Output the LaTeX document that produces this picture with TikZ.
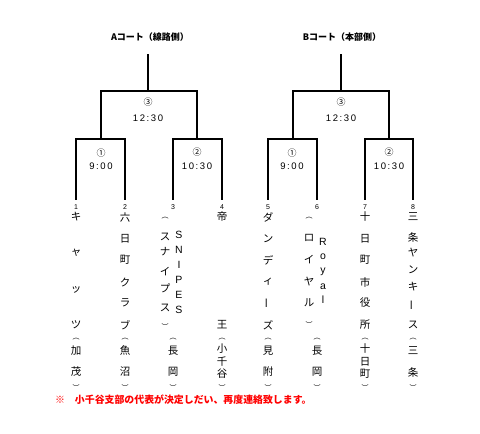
\documentclass[tikz,border=0pt]{standalone}
\usepackage{fontspec}
\setmainfont{Noto Sans CJK JP}
\newfontfamily\latinf{Liberation Sans}
\tikzset{
  br/.style={line width=1.3pt, line cap=rect},
  ttl/.style={font=\fontsize{9}{10}\selectfont\bfseries, inner sep=0pt},
  rnd/.style={font=\fontsize{9}{10}\selectfont, inner sep=0pt},
  tim/.style={font=\latinf\fontsize{9.5}{10}\selectfont, inner sep=0pt},
  tnum/.style={font=\latinf\fontsize{7}{8}\selectfont, inner sep=0pt},
  tchar/.style={font=\fontsize{10.5}{10}\selectfont, inner sep=0pt},
  lchar/.style={font=\latinf\fontsize{10.5}{10}\selectfont, inner sep=0pt},
  note/.style={font=\fontsize{9.9}{10}\selectfont\bfseries, text=red, inner sep=0pt, anchor=west}
}
\newcommand\vtext[3][tchar]{\foreach \yy/\cc in {#3} \node[#1] at (#2,\yy) {\cc};}
\newcommand\vbar{\rotatebox[origin=c]{90}{ー}}
\newcommand\po{{\fontsize{7}{7}\selectfont ︵}}
\newcommand\pc{{\fontsize{7}{7}\selectfont ︶}}
\newcommand\lsp{\kern1.6pt}
\begin{document}
\begin{tikzpicture}[x=1pt,y=-1pt]
\useasboundingbox (0,0) rectangle (480,434);
% titles
\node[ttl] (tA) at (150,37) {Aコート（線路側）};
\node[ttl] (tB) at (342,37) {Bコート（本部側）};
% bracket A
\coordinate (Ar) at (148,55);
\coordinate (AL) at (101,91); \coordinate (AR) at (197,91);
\coordinate (AL1) at (76,139); \coordinate (AL2) at (125,139);
\coordinate (AR1) at (173,139); \coordinate (AR2) at (222,139);
\foreach \n/\x in {1/76,2/125,3/173,4/222} \coordinate (T\n) at (\x,199);
\draw[br] (Ar) -- (148,91);
\draw[br] (AL1) -- (T1); \draw[br] (AL2) -- (T2); \draw[br] (AL1) -- (AL2);
\draw[br] (AR1) -- (T3); \draw[br] (AR2) -- (T4); \draw[br] (AR1) -- (AR2);
\draw[br] (101,139) -- (AL) -- (AR) -- (197,139);
% bracket B
\coordinate (Br) at (341,55);
\coordinate (BL) at (293,91); \coordinate (BR) at (389,91);
\coordinate (BL1) at (268,139); \coordinate (BL2) at (317,139);
\coordinate (BR1) at (365,139); \coordinate (BR2) at (413,139);
\foreach \n/\x in {5/268,6/317,7/365,8/413} \coordinate (T\n) at (\x,199);
\draw[br] (Br) -- (341,91);
\draw[br] (BL1) -- (T5); \draw[br] (BL2) -- (T6); \draw[br] (BL1) -- (BL2);
\draw[br] (BR1) -- (T7); \draw[br] (BR2) -- (T8); \draw[br] (BR1) -- (BR2);
\draw[br] (293,139) -- (BL) -- (BR) -- (389,139);
% rounds and times
\node[rnd] (a3) at (148,102) {③}; \node[tim] (a3t) at (148,118) {1\lsp2\lsp:\lsp3\lsp0};
\node[rnd] (a1) at (101,153) {①}; \node[tim] (a1t) at (101,166) {9\lsp:\lsp0\lsp0};
\node[rnd] (a2) at (197,152) {②}; \node[tim] (a2t) at (197,166) {1\lsp0\lsp:\lsp3\lsp0};
\node[rnd] (b3) at (341,102) {③}; \node[tim] (b3t) at (341,118) {1\lsp2\lsp:\lsp3\lsp0};
\node[rnd] (b1) at (292,153) {①}; \node[tim] (b1t) at (292,166) {9\lsp:\lsp0\lsp0};
\node[rnd] (b2) at (389,152) {②}; \node[tim] (b2t) at (389,166) {1\lsp0\lsp:\lsp3\lsp0};
% team numbers
\foreach \n/\x in {1/76,2/125,3/173,4/222,5/268,6/317,7/365,8/413}
  \node[tnum] (n\n) at (\x,207) {\n};
% team 1
\vtext{76}{217/キ,253/ャ,290/ッ,325/ツ,339/\po,351/加,372/茂,388/\pc}
% team 2
\vtext{125}{217/六,239/日,260/町,282/ク,303/ラ,325/ブ,339/\po,351/魚,372/沼,388/\pc}
% team 3
\vtext{165}{218/\po,237/ス,252/ナ,272/イ,288/プ,308/ス,327/\pc}
\vtext[lchar]{179}{235/S,250/N,265/I,280/P,295/E,310/S}
\vtext{173}{339/\po,351/長,372/岡,388/\pc}
% team 4
\vtext{222}{217/帝,325/王,339/\po,349/小,362/千,374/谷,388/\pc}
% team 5
\vtext{268}{217/ダ,239/ン,260/デ,282/ィ,303/\vbar,325/ズ,339/\po,351/見,372/附,388/\pc}
% team 6
\vtext{309}{218/\po,238/ロ,260/イ,282/ヤ,303/ル,325/\pc}
\vtext[lchar]{323}{242/R,257/o,272/y,287/a,300/l}
\vtext{317}{339/\po,351/長,372/岡,388/\pc}
% team 7
\vtext{365}{217/十,239/日,260/町,282/市,303/役,325/所,339/\po,349/十,362/日,374/町,388/\pc}
% team 8
\vtext{413}{217/三,237/条,253/ヤ,270/ン,287/キ,305/\vbar,325/ス,339/\po,351/三,372/条,388/\pc}
% note
\node[note] (nt) at (55,400) {※\quad 小千谷支部の代表が決定しだい、再度連絡致します。};
\end{tikzpicture}
\end{document}
